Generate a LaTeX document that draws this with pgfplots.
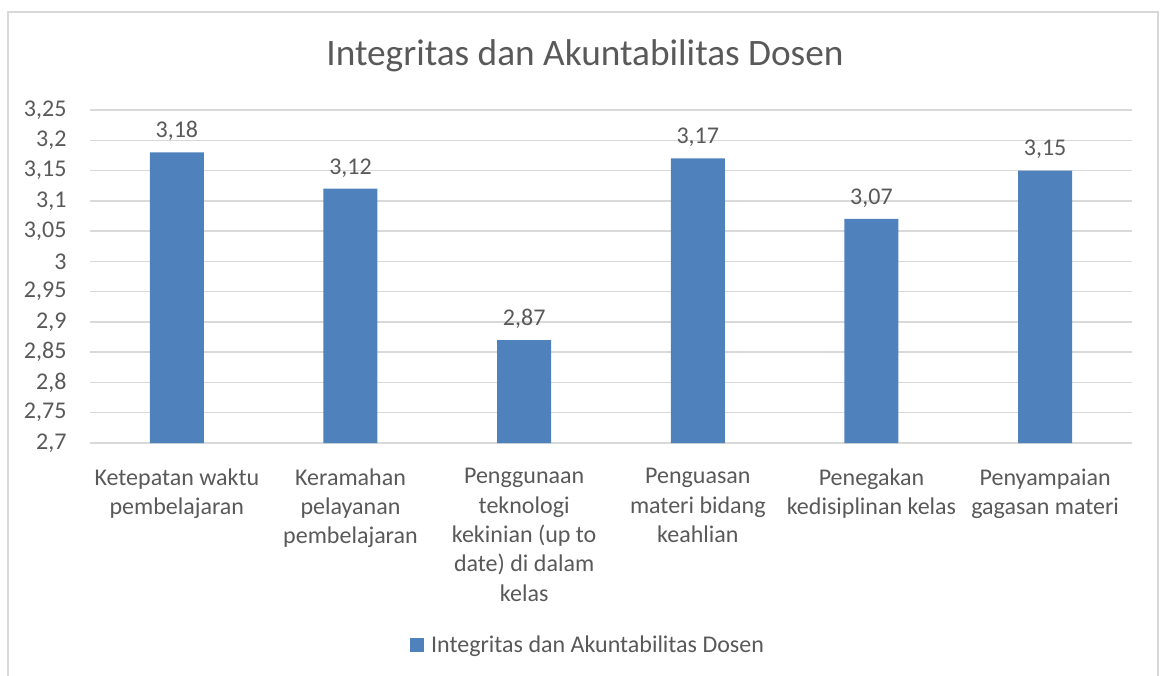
\documentclass[border=0pt]{standalone}
\usepackage{pgfplots}
\pgfplotsset{compat=1.18}
\usepackage{fontspec}
\setmainfont{Carlito}
\definecolor{barblue}{HTML}{4F81BD}
\definecolor{txt}{HTML}{595959}
\definecolor{gridc}{HTML}{D9D9D9}
\begin{document}
\begin{tikzpicture}
\useasboundingbox (0,0) rectangle (1161pt,-675pt);
\draw[gridc, line width=1.5pt] (8pt,-680pt) -- (8pt,-12pt) -- (1158pt,-12pt) -- (1158pt,-680pt);
\node[txt, font=\fontsize{37.3}{44}\selectfont] at (585pt,-56pt) {Integritas dan Akuntabilitas Dosen};
\begin{axis}[
  at={(90pt,-443pt)}, anchor=south west,
  scale only axis,
  width=1042pt, height=333pt,
  ybar, bar width=54pt,
  xmin=-0.5, xmax=5.5,
  ymin=2.7, ymax=3.25,
  ytick={2.7,2.75,2.8,2.85,2.9,2.95,3,3.05,3.1,3.15,3.2,3.25},
  xtick={0,1,2,3,4,5},
  xticklabels={
    {Ketepatan waktu\\pembelajaran},
    {Keramahan\\pelayanan\\pembelajaran},
    {Penggunaan\\teknologi\\kekinian (up to\\date) di dalam\\kelas},
    {Penguasan\\materi bidang\\keahlian},
    {Penegakan\\kedisiplinan kelas},
    {Penyampaian\\gagasan materi}},
  major tick length=0pt,
  axis line style={draw=none},
  ymajorgrids, grid style={gridc, line width=1.5pt},
  /pgf/number format/assume math mode=true,
  /pgf/number format/use comma,
  tick label style={txt, font=\fontsize{24}{29.3}\selectfont},
  yticklabel style={xshift=-20pt},
  xticklabel style={align=center, anchor=north, yshift=-22pt},
  nodes near coords,
  nodes near coords style={txt, font=\fontsize{24}{29}\selectfont, anchor=south, yshift=8pt,
    /pgf/number format/fixed, /pgf/number format/precision=2, /pgf/number format/fixed zerofill},
  legend style={at={(axis description cs:0.478,-0.607)}, anchor=center, draw=none, fill=none,
    font=\fontsize{24}{29}\selectfont, text=txt},
  legend image code/.code={\fill[barblue] (0pt,-7pt) rectangle (14pt,7pt); \path (19pt,0pt);},
]
\addplot[fill=barblue, draw=none] coordinates {
  (0,3.18) (1,3.12) (2,2.87) (3,3.17) (4,3.07) (5,3.15)
};
\addlegendentry{Integritas dan Akuntabilitas Dosen}
\end{axis}
\end{tikzpicture}
\end{document}
